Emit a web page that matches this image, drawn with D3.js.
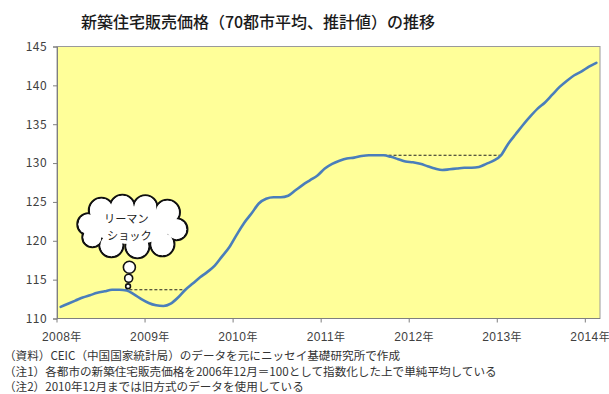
<!DOCTYPE html>
<html>
<head>
<meta charset="utf-8">
<script src="https://cdn.jsdelivr.net/npm/d3@7"></script>
<style>
  html, body { margin: 0; padding: 0; background: #ffffff; }
  svg { display: block; }
  text { font-family: "Noto Sans CJK JP", "Noto Sans", sans-serif; }
</style>
</head>
<body>
<svg id="chart" width="609" height="394"></svg>
<script>
// Monthly index, Jan 2008 – Feb 2014 (2006-12 = 100, simple average of 70 cities)
const startYear = 2008;
const values = [
  111.5, 111.9, 112.3, 112.7, 113.0, 113.3, 113.5, 113.7, 113.7, 113.6, 113.1, 112.5, // 2008
  112.0, 111.7, 111.6, 111.9, 112.7, 113.7, 114.5, 115.3, 116.0, 116.8, 118.0, 119.2, // 2009
  120.8, 122.3, 123.5, 124.8, 125.4, 125.6, 125.6, 125.8, 126.5, 127.2, 127.8, 128.4, // 2010
  129.3, 129.9, 130.3, 130.6, 130.7, 130.9, 131.0, 131.0, 131.0, 130.8, 130.5, 130.2, // 2011
  130.1, 129.9, 129.6, 129.3, 129.1, 129.2, 129.3, 129.4, 129.4, 129.5, 129.9, 130.3, // 2012
  131.0, 132.5, 133.7, 134.9, 136.0, 137.0, 137.8, 138.8, 139.8, 140.6, 141.3, 141.8, // 2013
  142.4, 142.9                                                                        // 2014
];
const months = values.map((_, i) => i);
const yTicks = [110, 115, 120, 125, 130, 135, 140, 145];
const yearLabels = ["2008年", "2009年", "2010年", "2011年", "2012年", "2013年", "2014年"];
// Horizontal reference lines: [from month index, to month index] at the level of the first month
const refSpans = [[8, 17], [44, 60]];
const title = "新築住宅販売価格（70都市平均、推計値）の推移";
const calloutLines = ["リーマン", "ショック"];
const notes = [
  "（資料）CEIC（中国国家統計局）のデータを元にニッセイ基礎研究所で作成",
  "（注1）各都市の新築住宅販売価格を2006年12月＝100として指数化した上で単純平均している",
  "（注2）2010年12月までは旧方式のデータを使用している"
];

const svg = d3.select("#chart");
const plot = { left: 57, right: 600, top: 46.5, bottom: 318.5 };

const x = d3.scaleBand().domain(months).range([plot.left, plot.right]).paddingInner(0).paddingOuter(0);
const xc = i => x(i) + x.bandwidth() / 2;
const y = d3.scaleLinear().domain([110, 145]).range([plot.bottom, plot.top]);

// Title
svg.append("text")
  .attr("x", 258).attr("y", 28)
  .attr("text-anchor", "middle")
  .attr("font-size", 16).attr("font-weight", 500)
  .attr("fill", "#1a1a1a")
  .text(title);

// Plot background
svg.append("rect")
  .attr("x", plot.left).attr("y", plot.top)
  .attr("width", plot.right - plot.left).attr("height", plot.bottom - plot.top)
  .attr("fill", "#ffff99")
  .attr("stroke", "#9a9a9a").attr("stroke-width", 1);

// Y axis
const yAxis = d3.axisLeft(y).tickValues(yTicks).tickSize(4).tickPadding(6).tickFormat(d3.format("d"));
const gy = svg.append("g").attr("transform", `translate(${plot.left},0)`).call(yAxis);
gy.select(".domain").attr("stroke", "#7f7f7f");
gy.selectAll(".tick line").attr("stroke", "#7f7f7f");
gy.selectAll(".tick text")
  .attr("font-family", "'Liberation Sans', Arial, sans-serif")
  .attr("font-size", 12).attr("letter-spacing", 0.4)
  .attr("fill", "#404040");

// X axis: ticks at the start of each year, labels under the first month
const yearStarts = months.filter(i => i % 12 === 0);
const gx = svg.append("g").attr("transform", `translate(0,${plot.bottom})`);
gx.append("line")
  .attr("x1", plot.left).attr("x2", plot.right)
  .attr("stroke", "#7f7f7f");
gx.selectAll("line.tick").data(yearStarts).join("line")
  .attr("class", "tick")
  .attr("x1", d => x(d)).attr("x2", d => x(d))
  .attr("y1", 0).attr("y2", 4)
  .attr("stroke", "#7f7f7f");
gx.selectAll("text").data(yearStarts).join("text")
  .attr("x", d => xc(d) + 1).attr("y", 22)
  .attr("text-anchor", "middle")
  .attr("font-size", 12)
  .attr("fill", "#404040")
  .each(function (d, k) {
    const t = d3.select(this);
    const label = yearLabels[k];
    t.append("tspan")
      .attr("font-family", "'Liberation Sans', Arial, sans-serif")
      .attr("letter-spacing", 0.4)
      .text(label.slice(0, 4));
    t.append("tspan").attr("font-size", 11).text(label.slice(4));
  });

// Reference dashed lines
svg.selectAll("line.ref").data(refSpans).join("line")
  .attr("class", "ref")
  .attr("x1", d => xc(d[0])).attr("x2", d => xc(d[1]))
  .attr("y1", d => y(values[d[0]])).attr("y2", d => y(values[d[0]]))
  .attr("stroke", "#222").attr("stroke-width", 1.1)
  .attr("stroke-dasharray", "3,2");

// Index line
const line = d3.line().x(i => xc(i)).y(i => y(values[i])).curve(d3.curveMonotoneX);
svg.append("path")
  .datum(months)
  .attr("d", line)
  .attr("fill", "none")
  .attr("stroke", "#4a7ebb").attr("stroke-width", 2.6)
  .attr("stroke-linejoin", "round").attr("stroke-linecap", "round");

// Thought-cloud callout above the 2008 peak
const peak = 8;
const cx = xc(peak) + 13, cy = y(122.0);
const bumps = [
  [-44, -1, 11], [-31, -15, 12.5], [-10, -18, 12.5], [13, -18, 12], [35, -13, 12.5],
  [44, 4, 11], [30, 19, 12], [5, 21, 12], [-21, 20, 12], [-40, 12, 10]
];
const cloud = svg.append("g").attr("transform", `translate(${cx},${cy})`);
cloud.selectAll("circle.o").data(bumps).join("circle")
  .attr("class", "o")
  .attr("cx", d => d[0]).attr("cy", d => d[1]).attr("r", d => d[2])
  .attr("fill", "#fff").attr("stroke", "#111").attr("stroke-width", 2.2);
cloud.selectAll("circle.i").data(bumps).join("circle")
  .attr("class", "i")
  .attr("cx", d => d[0]).attr("cy", d => d[1]).attr("r", d => d[2] - 1.1)
  .attr("fill", "#fff");
cloud.append("ellipse").attr("rx", 40).attr("ry", 19).attr("fill", "#fff");
cloud.selectAll("text").data(calloutLines).join("text")
  .attr("x", (d, k) => k === 0 ? -6 : -3)
  .attr("y", (d, k) => -2.5 + k * 16.8)
  .attr("text-anchor", "middle")
  .attr("font-size", 11.2)
  .attr("fill", "#222")
  .text(d => d);

// Trailing bubbles of the callout
const trail = [[0, 42, 6], [-0.7, 53, 4], [-1.3, 61, 2.4]];
cloud.selectAll("circle.t").data(trail).join("circle")
  .attr("class", "t")
  .attr("cx", d => d[0] - 3).attr("cy", d => d[1])
  .attr("r", d => d[2])
  .attr("fill", "#fff").attr("stroke", "#111").attr("stroke-width", 1.6);

// Source and notes
svg.selectAll("text.note").data(notes).join("text")
  .attr("class", "note")
  .attr("x", 4).attr("y", (d, k) => 360 + k * 15.5)
  .attr("font-size", 11.6)
  .attr("fill", "#333")
  .text(d => d);
</script>
</body>
</html>
